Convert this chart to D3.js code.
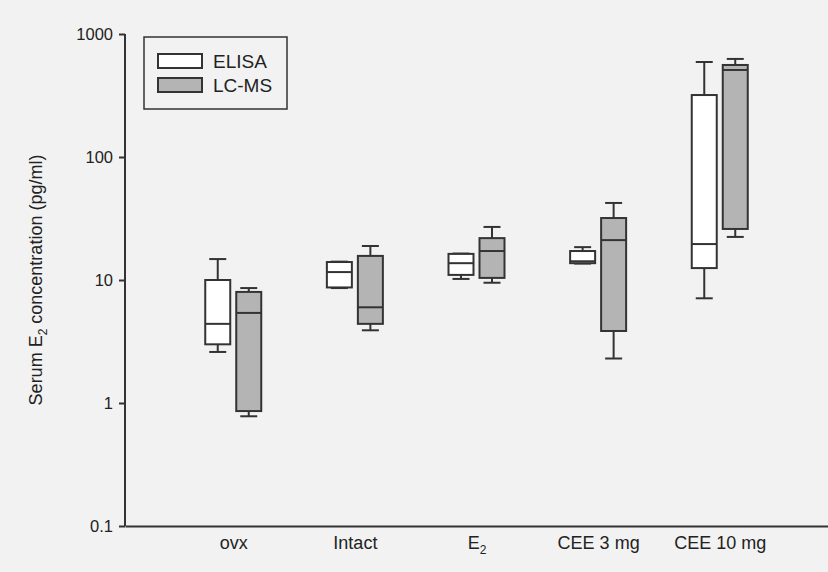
<!DOCTYPE html>
<html>
<head>
<meta charset="utf-8">
<script src="https://cdn.jsdelivr.net/npm/d3@7"></script>
<style>
  body { margin: 0; background: #f2f2f2; }
  svg { display: block; }
</style>
</head>
<body>
<div id="chart"></div>
<script>
// 数据: [min, q1, median, q3, max]
var categories = ["ovx", "Intact", "E2", "CEE 3 mg", "CEE 10 mg"];
var elisa = [
    [2.6, 3.0, 4.4, 10.0, 14.8],
    [8.6, 8.7, 11.6, 14.0, 14.1],
    [10.2, 11.0, 13.7, 16.3, 16.4],
    [13.6, 13.7, 14.2, 17.2, 18.5],
    [7.1, 12.5, 19.6, 319, 592]
];
var lcms = [
    [0.78, 0.86, 5.4, 8.0, 8.6],
    [3.9, 4.4, 6.0, 15.7, 18.9],
    [9.5, 10.4, 17.2, 21.9, 27],
    [2.3, 3.85, 21.1, 31.9, 42.3],
    [22.4, 26, 510, 560, 627]
];
var yTicks = [0.1, 1, 10, 100, 1000];
var seriesNames = ["ELISA", "LC-MS"];
var seriesFill = ["#ffffff", "#b4b4b4"];

var width = 828, height = 572;
var svg = d3.select("#chart").append("svg")
    .attr("width", width)
    .attr("height", height)
    .style("font-family", "Liberation Sans, Arial, sans-serif");

svg.append("rect").attr("width", width).attr("height", height).attr("fill", "#f2f2f2");

var x = d3.scalePoint().domain(categories).range([125, 828]).padding(0.89);
var y = d3.scaleLog().domain([0.1, 1000]).range([526, 34]);

var boxW = 25, gap = 6, capW = 17, stroke = "#333";

// 箱线图
[elisa, lcms].forEach(function (series, si) {
    var off = si == 0 ? -(gap / 2 + boxW / 2) : (gap / 2 + boxW / 2);
    var g = svg.append("g").attr("class", "series-" + si);
    var groups = g.selectAll("g")
        .data(series)
        .enter().append("g")
        .attr("transform", function (d, i) { return "translate(" + (x(categories[i]) + off) + ",0)"; });

    // whiskers
    groups.append("line")
        .attr("x1", 0).attr("x2", 0)
        .attr("y1", function (d) { return y(d[3]); })
        .attr("y2", function (d) { return y(d[4]); })
        .attr("stroke", stroke).attr("stroke-width", 2);
    groups.append("line")
        .attr("x1", 0).attr("x2", 0)
        .attr("y1", function (d) { return y(d[0]); })
        .attr("y2", function (d) { return y(d[1]); })
        .attr("stroke", stroke).attr("stroke-width", 2);
    groups.append("line")
        .attr("x1", -capW / 2).attr("x2", capW / 2)
        .attr("y1", function (d) { return y(d[4]); })
        .attr("y2", function (d) { return y(d[4]); })
        .attr("stroke", stroke).attr("stroke-width", 2);
    groups.append("line")
        .attr("x1", -capW / 2).attr("x2", capW / 2)
        .attr("y1", function (d) { return y(d[0]); })
        .attr("y2", function (d) { return y(d[0]); })
        .attr("stroke", stroke).attr("stroke-width", 2);
    // box
    groups.append("rect")
        .attr("x", -boxW / 2)
        .attr("width", boxW)
        .attr("y", function (d) { return y(d[3]); })
        .attr("height", function (d) { return y(d[1]) - y(d[3]); })
        .attr("fill", seriesFill[si])
        .attr("stroke", stroke).attr("stroke-width", 2);
    // median
    groups.append("line")
        .attr("x1", -boxW / 2).attr("x2", boxW / 2)
        .attr("y1", function (d) { return y(d[2]); })
        .attr("y2", function (d) { return y(d[2]); })
        .attr("stroke", stroke).attr("stroke-width", 2);
});

// 坐标轴
var yAxis = svg.append("g")
    .attr("transform", "translate(125,0)")
    .call(d3.axisLeft(y).tickValues(yTicks).tickSize(6).tickSizeOuter(0)
        .tickFormat(function (d) { return d < 1 ? "0.1" : d3.format("d")(d); }));
yAxis.selectAll("path, line").attr("stroke", stroke).attr("stroke-width", 2);
yAxis.selectAll("text").attr("x", -12).attr("dy", "0.36em")
    .style("font-size", "16.5px").style("font-family", "Liberation Sans, Arial, sans-serif").attr("fill", "#222");
yAxis.select(".domain").attr("d", "M0," + y(0.1) + "V" + y(1000));

var xAxis = svg.append("g")
    .attr("transform", "translate(0,526)")
    .call(d3.axisBottom(x).tickSize(0).tickSizeOuter(0));
xAxis.select(".domain").attr("stroke", stroke).attr("stroke-width", 2);
xAxis.selectAll("text")
    .attr("y", 23)
    .attr("dy", 0)
    .style("font-size", "18px")
    .style("font-family", "Liberation Sans, Arial, sans-serif")
    .attr("fill", "#222")
    .each(function (d) {
        if (d == "E2") {
            var t = d3.select(this).text("E");
            t.append("tspan").attr("dy", 5).style("font-size", "12px").text("2");
        }
    });

// y轴标题
var ytitle = svg.append("text")
    .attr("transform", "translate(42,280)rotate(-90)")
    .attr("text-anchor", "middle")
    .style("font-size", "18px")
    .attr("fill", "#222");
ytitle.append("tspan").text("Serum E");
ytitle.append("tspan").attr("dy", 5).style("font-size", "12px").text("2");
ytitle.append("tspan").attr("dy", -5).text(" concentration (pg/ml)");

// 图例
var legend = svg.append("g");
legend.append("rect")
    .attr("x", 144).attr("y", 37).attr("width", 143).attr("height", 72)
    .attr("fill", "none").attr("stroke", stroke).attr("stroke-width", 1.5);
seriesNames.forEach(function (name, i) {
    legend.append("rect")
        .attr("x", 158).attr("y", 54 + i * 24).attr("width", 44).attr("height", 14)
        .attr("fill", seriesFill[i]).attr("stroke", stroke).attr("stroke-width", 2);
    legend.append("text")
        .attr("x", 213).attr("y", 68 + i * 24)
        .style("font-size", "19px")
        .attr("fill", "#222")
        .text(name);
});
</script>
</body>
</html>
